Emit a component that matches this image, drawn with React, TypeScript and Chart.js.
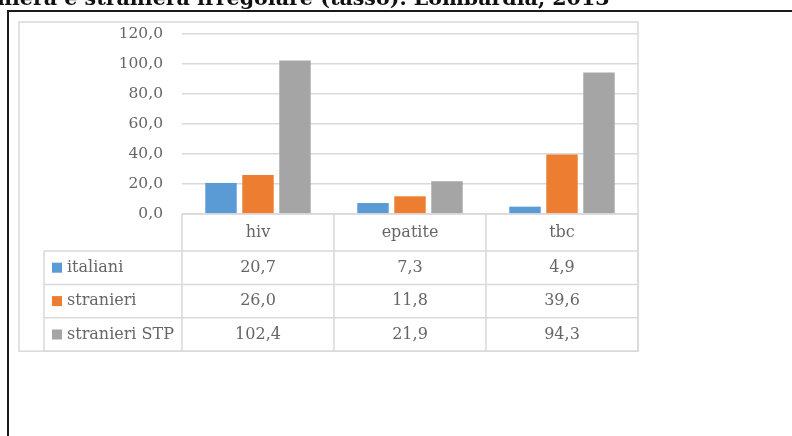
import React, { useEffect, useRef } from "react";
import { Chart, registerables } from "chart.js";

Chart.register(...registerables);

const titleText = "niera e straniera irregolare (tasso). Lombardia, 2013";
const categories = ["hiv", "epatite", "tbc"];
const seriesNames = ["italiani", "stranieri", "stranieri STP"];
const italiani = [20.7, 7.3, 4.9];
const stranieri = [26.0, 11.8, 39.6];
const stranieriSTP = [102.4, 21.9, 94.3];
const seriesColors = ["#5B9BD5", "#ED7D31", "#A5A5A5"];
const yMin = 0;
const yMax = 120;
const yStep = 20;

const fmt = (v: number) => v.toFixed(1).replace(".", ",");

const FONT = '"DejaVu Serif", serif';
const GRID = "#D9D9D9";
const TEXT = "#666666";

const decorPlugin = {
  id: "decor",
  beforeDraw(chart: any) {
    const ctx = chart.ctx;
    const { bottom } = chart.chartArea;
    const headerH = 37;
    const rowH = 33.4;
    const tableBottom = bottom + headerH + rowH * seriesNames.length;
    ctx.save();
    // title (clipped at top)
    ctx.fillStyle = "#111";
    ctx.font = 'bold 20.6px "DejaVu Serif", serif';
    ctx.textBaseline = "alphabetic";
    ctx.textAlign = "left";
    ctx.fillText(titleText, -3, 5);
    // black frame
    ctx.fillStyle = "#1a1a1a";
    ctx.fillRect(7, 10, 785, 2);
    ctx.fillRect(7, 10, 2, 426);
    // light chart box
    ctx.strokeStyle = GRID;
    ctx.lineWidth = 1.5;
    ctx.strokeRect(19, 22, chart.chartArea.right - 19, tableBottom - 22);
    ctx.restore();
  },
  afterDraw(chart: any) {
    const ctx = chart.ctx;
    const { left, right, bottom } = chart.chartArea;
    const xs = chart.scales.x;
    const n = categories.length;
    const colW = (right - left) / n;
    const headerH = 37;
    const rowH = 33.4;
    const legendLeft = 44;
    const rowsTop = bottom + headerH;
    const tableBottom = rowsTop + rowH * seriesNames.length;
    ctx.save();
    ctx.strokeStyle = GRID;
    ctx.lineWidth = 1.5;
    ctx.beginPath();
    ctx.moveTo(left, bottom);
    ctx.lineTo(right, bottom);
    for (let r = 0; r <= seriesNames.length; r++) {
      const y = rowsTop + r * rowH;
      ctx.moveTo(legendLeft, y);
      ctx.lineTo(right, y);
    }
    for (let c = 0; c <= n; c++) {
      const x = left + c * colW;
      ctx.moveTo(x, bottom);
      ctx.lineTo(x, tableBottom);
    }
    ctx.moveTo(legendLeft, rowsTop);
    ctx.lineTo(legendLeft, tableBottom);
    ctx.stroke();

    ctx.fillStyle = TEXT;
    ctx.font = "16px " + FONT;
    ctx.textBaseline = "middle";
    ctx.textAlign = "center";
    categories.forEach((c, i) => {
      ctx.fillText(c, xs.getPixelForValue(i), bottom + headerH / 2);
    });
    chart.data.datasets.forEach((ds: any, r: number) => {
      const y = rowsTop + rowH * (r + 0.5);
      ctx.fillStyle = ds.backgroundColor;
      ctx.fillRect(52, y - 5, 10, 10);
      ctx.fillStyle = TEXT;
      ctx.textAlign = "left";
      ctx.fillText(ds.label, 67, y);
      ctx.textAlign = "center";
      ds.data.forEach((v: number, i: number) => {
        ctx.fillText(fmt(v), xs.getPixelForValue(i), y);
      });
    });
    ctx.restore();
  },
};

export default function App() {
  const ref = useRef<HTMLCanvasElement>(null);
  useEffect(() => {
    if (!ref.current) return;
    const values = [italiani, stranieri, stranieriSTP];
    const chart = new Chart(ref.current, {
      type: "bar",
      data: {
        labels: categories,
        datasets: seriesNames.map((name, i) => ({
          label: name,
          data: values[i],
          backgroundColor: seriesColors[i],
          borderWidth: 0,
          categoryPercentage: 0.73,
          barPercentage: 0.85,
        })),
      },
      options: {
        responsive: false,
        animation: false,
        layout: { padding: { left: 0, top: 34, right: 154, bottom: 222 } },
        plugins: {
          legend: { display: false },
          tooltip: { enabled: false },
          title: { display: false },
        },
        scales: {
          x: { display: false },
          y: {
            min: yMin,
            max: yMax,
            afterFit: (s: any) => {
              s.width = 182;
            },
            border: { display: false },
            grid: { color: GRID, lineWidth: 1.5, drawTicks: false },
            ticks: {
              stepSize: yStep,
              padding: 19,
              color: TEXT,
              font: { family: FONT, size: 15.5 },
              callback: (v: any) => fmt(Number(v)),
            },
          },
        },
      },
      plugins: [decorPlugin],
    });
    return () => chart.destroy();
  }, []);
  return (
    <div style={{ position: "fixed", left: 0, top: 0, width: 792, height: 436, background: "#fff" }}>
      <canvas ref={ref} width={792} height={436} style={{ width: 792, height: 436, display: "block" }} />
    </div>
  );
}
